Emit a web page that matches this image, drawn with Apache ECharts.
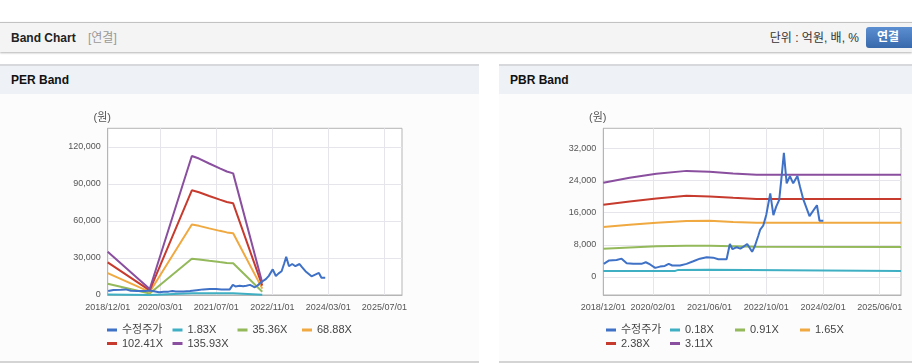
<!DOCTYPE html>
<html><head><meta charset="utf-8">
<script src="https://cdn.jsdelivr.net/npm/echarts@6/dist/echarts.min.js"></script>
<style>
html,body{margin:0;padding:0;width:912px;height:364px;overflow:hidden;background:#fff;font-family:"Liberation Sans","Noto Sans CJK KR",sans-serif;}
.abs{position:absolute;}
#topbar{left:0;top:22px;width:912px;height:29px;background:#f4f4f4;border-top:1px solid #c2c2c2;box-shadow:0 1px 2px rgba(0,0,0,0.3);}
#t1{left:11px;top:30px;font-size:12px;font-weight:bold;color:#222;line-height:16px;}
#t2{left:88px;top:30px;font-size:12px;color:#999;line-height:16px;}
#unit{right:53px;top:30px;font-size:12px;color:#333;line-height:16px;}
#btn{left:866px;top:27px;width:52px;height:21px;border-radius:3px;background:linear-gradient(#5c8fd2,#3769ab);color:#fff;font-size:12px;font-weight:bold;line-height:21px;text-indent:11px;}
.ph{top:64px;height:28px;background:#eef1f6;border-top:2px solid #d6d8dc;}
.pt{top:72px;font-size:12px;font-weight:bold;color:#111;line-height:16px;}
.pb{top:94px;height:267px;background:#fcfcfd;border-bottom:2px solid #d4d4d4;}
#chart{left:0;top:0;width:912px;height:364px;}
</style></head>
<body>
<div id="topbar" class="abs"></div>
<div id="t1" class="abs">Band Chart</div>
<div id="t2" class="abs">[연결]</div>
<div id="unit" class="abs">단위 : 억원, 배, %</div>
<div id="btn" class="abs">연결</div>
<div class="abs ph" style="left:0;width:479px;"></div>
<div class="abs ph" style="left:499px;width:413px;"></div>
<div class="abs pb" style="left:0;width:479px;"></div>
<div class="abs pb" style="left:499px;width:413px;"></div>
<div class="abs pt" style="left:11px;">PER Band</div>
<div class="abs pt" style="left:510px;">PBR Band</div>
<div id="chart" class="abs"></div>
<script>
// ---- data ----
const priceDates = ['2018-12-05','2019-01-20','2019-03-25','2019-05-07','2019-06-20','2019-08-15','2019-10-25','2019-12-01','2020-01-07','2020-02-20','2020-04-01','2020-05-12','2020-06-15','2020-07-15','2020-09-20','2020-11-15','2021-01-12','2021-03-10','2021-05-07','2021-07-01','2021-08-15','2021-10-25','2021-11-22','2021-12-15','2022-01-20','2022-02-20','2022-03-20','2022-04-20','2022-05-12','2022-06-01','2022-06-25','2022-07-25','2022-08-10','2022-09-05','2022-10-01','2022-11-04','2022-12-01','2022-12-25','2023-01-20','2023-02-12','2023-03-01','2023-03-25','2023-04-22','2023-05-20','2023-06-25','2023-07-18','2023-08-15','2023-10-07','2023-12-10','2024-01-01','2024-02-03'];
const priceValues = [3250,4100,4200,4550,3400,3250,3250,3650,3100,2250,2570,2730,3250,2850,2850,3250,3900,4550,4880,4800,4400,4400,8200,6900,7400,7050,7550,8200,7200,6250,7700,10300,11800,12800,15500,20780,15400,17500,19200,25700,30900,23300,25100,23300,25100,22400,19300,15150,17850,13990,14000];

const perDates = ['2018-12-01','2019-12-01','2020-12-01','2021-02-01','2021-05-01','2021-08-01','2021-10-01','2021-11-25','2022-08-05'];
const per183 = [470,70,1515,1490,1430,1380,1350,1330,140];
const per3536 = [9120,1270,29300,28750,27700,26650,26000,25650,2650];
const per6888 = [17770,2480,57050,56000,53950,51950,50700,49950,5150];
const per10241 = [26420,3690,84800,83250,80200,77200,75350,74250,7600];
const per13593 = [35100,4860,112600,110500,106500,102500,100000,98500,10000];

const pbrDates = ['2018-12-01','2019-07-15','2020-03-01','2020-11-15','2021-06-01','2021-12-20','2022-07-10','2025-12-01'];
const pbr091 = [7000,7350,7650,7750,7750,7650,7520,7480];
const pbr165 = [12430,13000,13500,13950,13990,13700,13510,13510];
const pbr238 = [17950,18800,19550,20200,20050,19700,19420,19420];
const pbr311 = [23450,24700,25700,26400,26200,25750,25450,25450];
const pbr018Dates = ['2018-12-01','2020-08-10','2020-09-05','2021-05-20','2021-06-05','2025-12-01'];
const pbr018 = [1490,1500,1750,1760,1490,1490];

const perXTicks = ['2018-12-01','2020-03-01','2021-07-01','2022-11-01','2024-03-01','2025-07-01'];
const pbrXTicks = ['2018-12-01','2020-02-01','2021-06-01','2022-10-01','2024-02-01','2025-06-01'];
const perYTicks = [0,30000,60000,90000,120000];
const pbrYTicks = [0,8000,16000,24000,32000];
const perNames = ['수정주가','1.83X','35.36X','68.88X','102.41X','135.93X'];
const pbrNames = ['수정주가','0.18X','0.91X','1.65X','2.38X','3.11X'];

// ---- helpers ----
function ts(s){const p=s.split('-');return new Date(+p[0],+p[1]-1,+p[2]).getTime();}
function zip(d,v){return d.map((x,i)=>[ts(x),v[i]]);}
function fmtDate(v){const d=new Date(v);return d.getFullYear()+'/'+String(d.getMonth()+1).padStart(2,'0')+'/'+String(d.getDate()).padStart(2,'0');}
const FONT='"Liberation Sans","Noto Sans CJK KR",sans-serif';
const COLORS=['#3f71c6','#3fb0c4','#93b95a','#efa940','#c73b2e','#8a4f9e'];
const GRID_LINE='#e5e5eb', AXIS='#b5b5b5';

function xAxis(g,ticks){
  const t=ticks.map(ts);
  return {type:'value',gridIndex:g,min:ts('2018-12-01'),max:ts('2025-12-01'),scale:true,
    axisLine:{show:true,onZero:false,lineStyle:{color:AXIS}},
    axisTick:{show:false,customValues:t},
    axisLabel:{customValues:t,formatter:fmtDate,fontSize:9,color:'#555',margin:8,fontFamily:FONT},
    splitLine:{show:true,lineStyle:{color:GRID_LINE}}};
}
function yAxis(g,min,max,ticks){
  return {type:'value',gridIndex:g,min:min,max:max,
    name:'(원)',nameLocation:'end',nameGap:5,
    nameTextStyle:{fontSize:11,color:'#555',fontFamily:FONT,align:'center',padding:[0,11,0,0]},
    axisLine:{show:true,onZero:false,lineStyle:{color:AXIS}},
    axisTick:{show:false,customValues:ticks},
    axisLabel:{customValues:ticks,formatter:v=>v.toLocaleString('en-US'),fontSize:9,color:'#555',margin:7,fontFamily:FONT},
    splitLine:{show:true,lineStyle:{color:GRID_LINE}}};
}
function line(name,data,color,g){
  return {type:'line',name:name,data:data,xAxisIndex:g,yAxisIndex:g,showSymbol:false,symbol:'none',
    lineStyle:{width:2,color:color},itemStyle:{color:color},silent:true,animation:false};
}
function legend(name,left,top){
  return {data:[name],left:left,top:top,padding:0,itemWidth:10,itemHeight:3,icon:'rect',selectedMode:false,
    textStyle:{fontSize:11,color:'#444',fontFamily:FONT,lineHeight:13}};
}

const series=[
  line(perNames[1],zip(perDates,per183),COLORS[1],0),
  line(perNames[2],zip(perDates,per3536),COLORS[2],0),
  line(perNames[3],zip(perDates,per6888),COLORS[3],0),
  line(perNames[4],zip(perDates,per10241),COLORS[4],0),
  line(perNames[5],zip(perDates,per13593),COLORS[5],0),
  line(perNames[0],zip(priceDates,priceValues),COLORS[0],0),
  line(pbrNames[1],zip(pbr018Dates,pbr018),COLORS[1],1),
  line(pbrNames[2],zip(pbrDates,pbr091),COLORS[2],1),
  line(pbrNames[3],zip(pbrDates,pbr165),COLORS[3],1),
  line(pbrNames[4],zip(pbrDates,pbr238),COLORS[4],1),
  line(pbrNames[5],zip(pbrDates,pbr311),COLORS[5],1),
  line(pbrNames[0],zip(priceDates,priceValues),COLORS[0],1)
];

const perLeg=[[107,323.5],[172.5,323.5],[237.5,323.5],[302,323.5],[107,337],[172.5,337]];
const pbrLeg=[[606,323.5],[670,323.5],[735,323.5],[800,323.5],[606,337],[670,337]];
const legends=[];
perNames.forEach((n,i)=>legends.push(legend(n,perLeg[i][0],perLeg[i][1])));
pbrNames.forEach((n,i)=>legends.push(legend(n,pbrLeg[i][0],pbrLeg[i][1])));

const chart=echarts.init(document.getElementById('chart'),null,{renderer:'canvas'});
chart.setOption({
  animation:false,
  textStyle:{fontFamily:FONT},
  grid:[
    {left:107.7,top:128.3,width:294.3,height:166.7,show:true,borderColor:AXIS,borderWidth:1,backgroundColor:'#fff'},
    {left:603.3,top:128.3,width:297.7,height:166.7,show:true,borderColor:AXIS,borderWidth:1,backgroundColor:'#fff'}
  ],
  xAxis:[xAxis(0,perXTicks),xAxis(1,pbrXTicks)],
  yAxis:[yAxis(0,0,135000,perYTicks),yAxis(1,-4500,37000,pbrYTicks)],
  legend:legends,
  series:series
});
</script>
</body></html>
